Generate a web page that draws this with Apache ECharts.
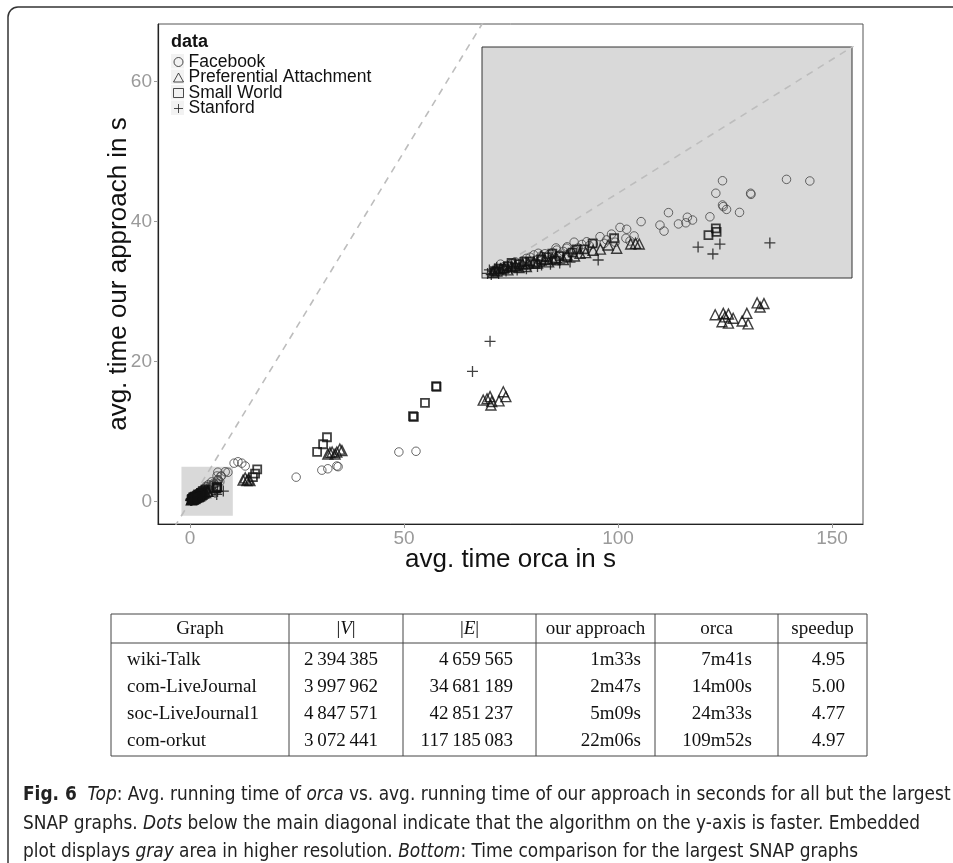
<!DOCTYPE html>
<html><head><meta charset="utf-8">
<script src="https://cdn.jsdelivr.net/npm/echarts@6/dist/echarts.min.js"></script>
<style>html,body{margin:0;padding:0;background:#fff}#c{width:953px;height:863px}</style>
</head><body><div id="c"></div>
<script>
// ---------------- DATA ----------------
const seriesNames = ['Facebook', 'Preferential Attachment', 'Small World', 'Stanford'];

const facebook = [
  [24.8,3.5],[30.8,4.5],[32.2,4.7],[34.3,5.1],[34.6,5.0],[48.8,7.1],[52.8,7.2],
  [10.3,5.5],[11.2,5.7],[12.1,5.5],[12.9,5.1],
  [6.50,4.21],[8.23,4.27],[8.86,4.20],[6.32,3.67],[7.26,3.67],[7.27,3.62],[6.50,3.16],[6.61,2.97],
  [6.52,3.09],[6.96,2.84],[6.16,2.65],[5.04,2.83],[4.81,2.29],[4.92,2.03],[5.31,2.34],[5.51,2.39],
  [5.55,2.63],[5.69,2.51],[4.30,2.44],[3.73,2.19],[3.91,2.11],[3.89,1.72],[4.11,1.82],[3.19,1.79],
  [3.37,1.65],[2.49,1.55],[2.83,1.57],[2.02,1.21],[1.52,1.07],[2.29,1.29],[3.01,1.47],
  [1.2,0.85],[1.8,1.0],[2.6,1.3],[3.3,1.5],[0.9,0.7],[2.2,1.15],[3.6,1.55],[4.0,1.6],[1.0,0.6],[2.4,1.1],
  [3.5,1.9],[2.9,1.4],[1.6,0.95],[0.7,0.55],
  [0.4,0.35],[0.6,0.5],[0.8,0.6],[1.1,0.75],[1.3,0.9],[1.5,0.8],[1.7,1.05],[1.9,1.1],[2.1,1.0],
  [2.3,1.35],[2.5,1.2],[2.7,1.45],[0.5,0.6],[1.4,1.0],[2.0,1.3]
];
const prefAttach = [
  [12.4,3.1],[13.3,3.0],[14.0,3.0],[12.9,3.4],[13.6,3.2],
  [33.2,7.1],[35.0,7.5],[34.3,7.1],[32.7,7.0],[33.9,6.8],[35.5,7.3],[32.2,6.8],
  [68.5,14.5],[70.1,15.0],[70.3,13.8],[73.2,15.7],[73.8,15.0],[72.2,14.4],[69.4,14.7],[70.5,14.3],
  [122.7,26.7],[124.6,26.9],[125.8,26.8],[126.9,26.2],[124.3,25.7],[125.8,25.5],[129.0,25.8],
  [130.1,26.9],[130.4,25.4],[132.5,28.4],[134.1,28.3],[133.2,27.8],[125.0,26.4],
  [4.02,1.47],[4.25,1.47],[4.15,1.50],[3.64,1.29],[3.41,1.43],[2.65,1.07],
  [0.5,0.4],[0.8,0.5],[1.1,0.6],[1.4,0.7],[1.7,0.8],[2.0,0.9],[2.3,1.0],[0.6,0.45],[1.25,0.65],[1.9,0.85],
  [0.3,0.25],[0.7,0.35],[0.9,0.55],[1.2,0.5],[1.5,0.65],[1.6,0.95],[1.8,0.7],[2.2,0.8],[2.5,0.95],
  [2.8,1.1],[3.0,1.2],[3.2,1.25],[0.4,0.3],[1.0,0.45]
];
const smallWorld = [
  [57.5,16.5],[57.6,16.4],[54.9,14.1],[52.1,12.2],[52.3,12.1],[32.0,9.2],[31.1,8.2],[29.7,7.1],
  [15.7,4.6],[15.2,4.0],[14.7,3.5],
  [6.32,2.15],[6.34,2.00],[6.12,1.86],[3.57,1.72],[2.99,1.50],[2.76,1.24],[2.56,1.24],
  [0.7,0.5],[1.0,0.6],[1.3,0.72],[1.6,0.8],[2.1,0.95],[0.45,0.4],
  [0.35,0.3],[0.6,0.4],[0.9,0.45],[1.15,0.7],[1.45,0.6],[1.75,0.9],[2.0,0.75],[2.3,0.9],[2.45,1.1],
  [0.8,0.65],[1.9,1.05]
];
const stanford = [
  [70.1,22.9],[66.0,18.6],
  [5.84,1.34],[6.43,1.47],[6.24,1.04],[7.78,1.52],[3.14,0.78],[2.38,0.69],[1.61,0.56],
  [0.3,0.3],[0.55,0.35],[0.8,0.42],[1.05,0.5],[1.3,0.55],[0.4,0.45],[0.2,0.35],
  [0.25,0.15],[0.45,0.2],[0.65,0.3],[0.95,0.35],[1.2,0.4],[1.5,0.5],[1.85,0.6],[2.1,0.65],
  [0.15,0.2],[0.7,0.5],[0.35,0.4]
];

const xTicks = [0, 50, 100, 150];
const yTicks = [0, 20, 40, 60];
const diagonal = [[-10, -10], [170, 170]];
const grayArea = [[-2, -2], [10, 5]];
const insetRange = [0, 10];

const tableHeader = ['Graph', '|{i|V}|', '|{i|E}|', 'our approach', 'orca', 'speedup'];
const tableGraph = ['wiki-Talk', 'com-LiveJournal', 'soc-LiveJournal1', 'com-orkut'];
const tableV = [2394385, 3997962, 4847571, 3072441];
const tableE = [4659565, 34681189, 42851237, 117185083];
const tableOurs = ['1m33s', '2m47s', '5m09s', '22m06s'];
const tableOrca = ['7m41s', '14m00s', '24m33s', '109m52s'];
const tableSpeedup = [4.95, 5.00, 4.77, 4.97];

const captionLines = [
  '{b|Fig. 6}  {i|Top}: Avg. running time of {i|orca} vs. avg. running time of our approach in seconds for all but the largest',
  'SNAP graphs. {i|Dots} below the main diagonal indicate that the algorithm on the y-axis is faster. Embedded',
  'plot displays {i|gray} area in higher resolution. {i|Bottom}: Time comparison for the largest SNAP graphs'
];

// ---------------- STYLE ----------------
const SANS = "'Liberation Sans', Arial, sans-serif";
const SERIF = "'Liberation Serif', 'DejaVu Serif', serif";
const NARROW = "'Liberation Sans Narrow', 'DejaVu Sans Condensed', 'Roboto Condensed', sans-serif";
const PLUS = 'path://M0,5L10,5M5,0L5,10';
const datasets = [facebook, prefAttach, smallWorld, stanford];
const symStyles = [
  {symbol: 'circle', size: 8.5, color: '#444', width: 1.0},
  {symbol: 'triangle', size: 10, color: '#111', width: 1.4},
  {symbol: 'rect', size: 8, color: '#111', width: 1.8},
  {symbol: PLUS, size: 11, color: '#111', width: 1.3}
];

const series = [];
series.push({
  type: 'line', xAxisIndex: 0, yAxisIndex: 0, data: diagonal, showSymbol: false, silent: true, z: 1,
  lineStyle: {color: '#bdbdbd', width: 1.6, type: [7, 6]},
  markArea: {silent: true, itemStyle: {color: '#d9d9d9'},
    data: [[{coord: grayArea[0]}, {coord: grayArea[1]}]]}
});
datasets.forEach((d, i) => {
  const s = symStyles[i];
  series.push({
    name: seriesNames[i], type: 'scatter', xAxisIndex: 0, yAxisIndex: 0, data: d, z: 3,
    symbol: s.symbol, symbolSize: s.size,
    itemStyle: {color: 'rgba(0,0,0,0)', borderColor: s.color, borderWidth: s.width},
    emphasis: {disabled: true}
  });
});
series.push({
  type: 'line', xAxisIndex: 1, yAxisIndex: 1, data: diagonal, showSymbol: false, silent: true, z: 5,
  lineStyle: {color: '#bdbdbd', width: 1.6, type: [7, 6]}
});
datasets.forEach((d, i) => {
  const s = symStyles[i];
  series.push({
    name: seriesNames[i], type: 'scatter', xAxisIndex: 1, yAxisIndex: 1, z: 6,
    data: d.filter(p => p[0] <= insetRange[1] && p[1] <= insetRange[1]),
    symbol: s.symbol, symbolSize: s.size,
    itemStyle: {color: 'rgba(0,0,0,0)', borderColor: s.color, borderWidth: s.width},
    emphasis: {disabled: true}
  });
});

// ---------------- TABLE + CAPTION (graphic) ----------------
const colEdges = [111, 289, 403, 536, 655, 778, 867];
const tTop = 614, tHead = 643, tBottom = 756;
const rowY = [660, 687, 714, 741];
const headY = 629;
const fmt = n => String(n).replace(/\B(?=(\d{3})+(?!\d))/g, '\u2009');
const g = [];
const lineStyle = {stroke: '#444', lineWidth: 1};
g.push({type: 'rect', shape: {x: colEdges[0], y: tTop, width: colEdges[6] - colEdges[0], height: tBottom - tTop},
  style: {fill: 'none', stroke: '#444', lineWidth: 1}});
g.push({type: 'line', shape: {x1: colEdges[0], y1: tHead, x2: colEdges[6], y2: tHead}, style: lineStyle});
for (let k = 1; k < 6; k++) {
  g.push({type: 'line', shape: {x1: colEdges[k], y1: tTop, x2: colEdges[k], y2: tBottom}, style: lineStyle});
}
const tFont = {fontFamily: SERIF, fontSize: 19, fill: '#111'};
tableHeader.forEach((h, k) => {
  g.push({type: 'text', x: (colEdges[k] + colEdges[k + 1]) / 2, y: headY,
    style: Object.assign({text: h, align: 'center', verticalAlign: 'middle',
      rich: {i: {fontStyle: 'italic', fontFamily: SERIF, fontSize: 19}}}, tFont)});
});
const rightX = [null, 378, 513, 641, 752, 845];
tableGraph.forEach((name, r) => {
  const cells = [name, fmt(tableV[r]), fmt(tableE[r]), tableOurs[r], tableOrca[r], tableSpeedup[r].toFixed(2)];
  cells.forEach((c, k) => {
    g.push({type: 'text', x: k === 0 ? 127 : rightX[k], y: rowY[r],
      style: Object.assign({text: c, align: k === 0 ? 'left' : 'right', verticalAlign: 'middle'}, tFont)});
  });
});
const capFontSize = 19;
const ctx = document.createElement('canvas').getContext('2d');
ctx.font = capFontSize + 'px ' + NARROW;
const plain1 = captionLines[0].replace(/\{[a-z]\|([^}]*)\}/g, '$1');
const capScale = Math.min(1, 918 / ctx.measureText(plain1).width);
const capY = [795, 824, 852];
captionLines.forEach((t, i) => {
  g.push({type: 'text', x: 23, y: capY[i], scaleX: capScale, style: {
    text: t, fontFamily: NARROW, fontSize: capFontSize, fill: '#222', verticalAlign: 'middle',
    rich: {b: {fontWeight: 'bold', fontFamily: NARROW, fontSize: capFontSize, fill: '#222'},
           i: {fontStyle: 'italic', fontFamily: NARROW, fontSize: capFontSize, fill: '#222'}}
  }});
});
const frameStyle = {fill: 'none', stroke: '#333', lineWidth: 1.5};
g.push({type: 'polyline', shape: {points: [[953, 7], [18, 7]]}, style: frameStyle});
g.push({type: 'arc', shape: {cx: 18, cy: 17, r: 10, startAngle: Math.PI, endAngle: Math.PI * 1.5}, style: frameStyle});
g.push({type: 'polyline', shape: {points: [[8, 17], [8, 863]]}, style: frameStyle});
// legend key backgrounds (ggplot style)
for (let k = 0; k < 4; k++) {
  g.push({type: 'rect', z: -1, shape: {x: 171, y: 54 + k * 15.5, width: 13, height: 14.5},
    style: {fill: '#f2f2f2'}});
}

// ---------------- CHART ----------------
const chart = echarts.init(document.getElementById('c'), null, {renderer: 'canvas'});
const axisCommon = {
  axisLine: {show: true, onZero: false, lineStyle: {color: '#222', width: 1.2}},
  splitLine: {show: false},
  nameMoveOverlap: false,
  nameTextStyle: {color: '#111', fontFamily: SANS, fontSize: 26}
};
const tickStyle = {show: true, length: 4, lineStyle: {color: '#9a9a9a'}};
chart.setOption({
  animation: false,
  title: {text: 'data', left: 171, top: 33, padding: 0,
    textStyle: {fontFamily: SANS, fontWeight: 'bold', fontSize: 18, color: '#111'}},
  legend: {
    orient: 'vertical', left: 173, top: 53, padding: 0, itemGap: -2.5,
    itemWidth: 10, itemHeight: 9, selectedMode: false, z: 10,
    textStyle: {fontFamily: SANS, fontSize: 17.5, color: '#111', lineHeight: 15},
    itemStyle: {color: 'rgba(0,0,0,0)', borderColor: '#222', borderWidth: 1},
    data: [
      {name: seriesNames[0], icon: 'circle'},
      {name: seriesNames[1], icon: 'triangle'},
      {name: seriesNames[2], icon: 'rect'},
      {name: seriesNames[3], icon: PLUS}
    ]
  },
  grid: [
    {left: 158, top: 24, width: 705, height: 500, show: true, borderColor: '#555', borderWidth: 1,
      backgroundColor: 'rgba(255,255,255,0)'},
    {left: 482, top: 47, width: 370, height: 231, show: true, borderColor: '#333', borderWidth: 1,
      backgroundColor: '#d9d9d9', z: 4}
  ],
  xAxis: [
    Object.assign({}, axisCommon, {
      type: 'value', gridIndex: 0, min: -7.48, max: 157.24,
      name: 'avg. time orca in s', nameLocation: 'middle', nameGap: 23,
      axisTick: Object.assign({customValues: xTicks}, tickStyle),
      axisLabel: {customValues: xTicks, color: '#9a9a9a', fontFamily: SANS, fontSize: 19, margin: 5}
    }),
    {type: 'value', gridIndex: 1, min: insetRange[0], max: insetRange[1], show: false}
  ],
  yAxis: [
    Object.assign({}, axisCommon, {
      type: 'value', gridIndex: 0, min: -3.19, max: 68.24,
      name: 'avg. time our approach in s', nameLocation: 'middle', nameGap: 26,
      axisTick: Object.assign({customValues: yTicks}, tickStyle),
      axisLabel: {customValues: yTicks, color: '#9a9a9a', fontFamily: SANS, fontSize: 19, margin: 6}
    }),
    {type: 'value', gridIndex: 1, min: insetRange[0], max: insetRange[1], show: false}
  ],
  series: series,
  graphic: g
});
</script></body></html>
